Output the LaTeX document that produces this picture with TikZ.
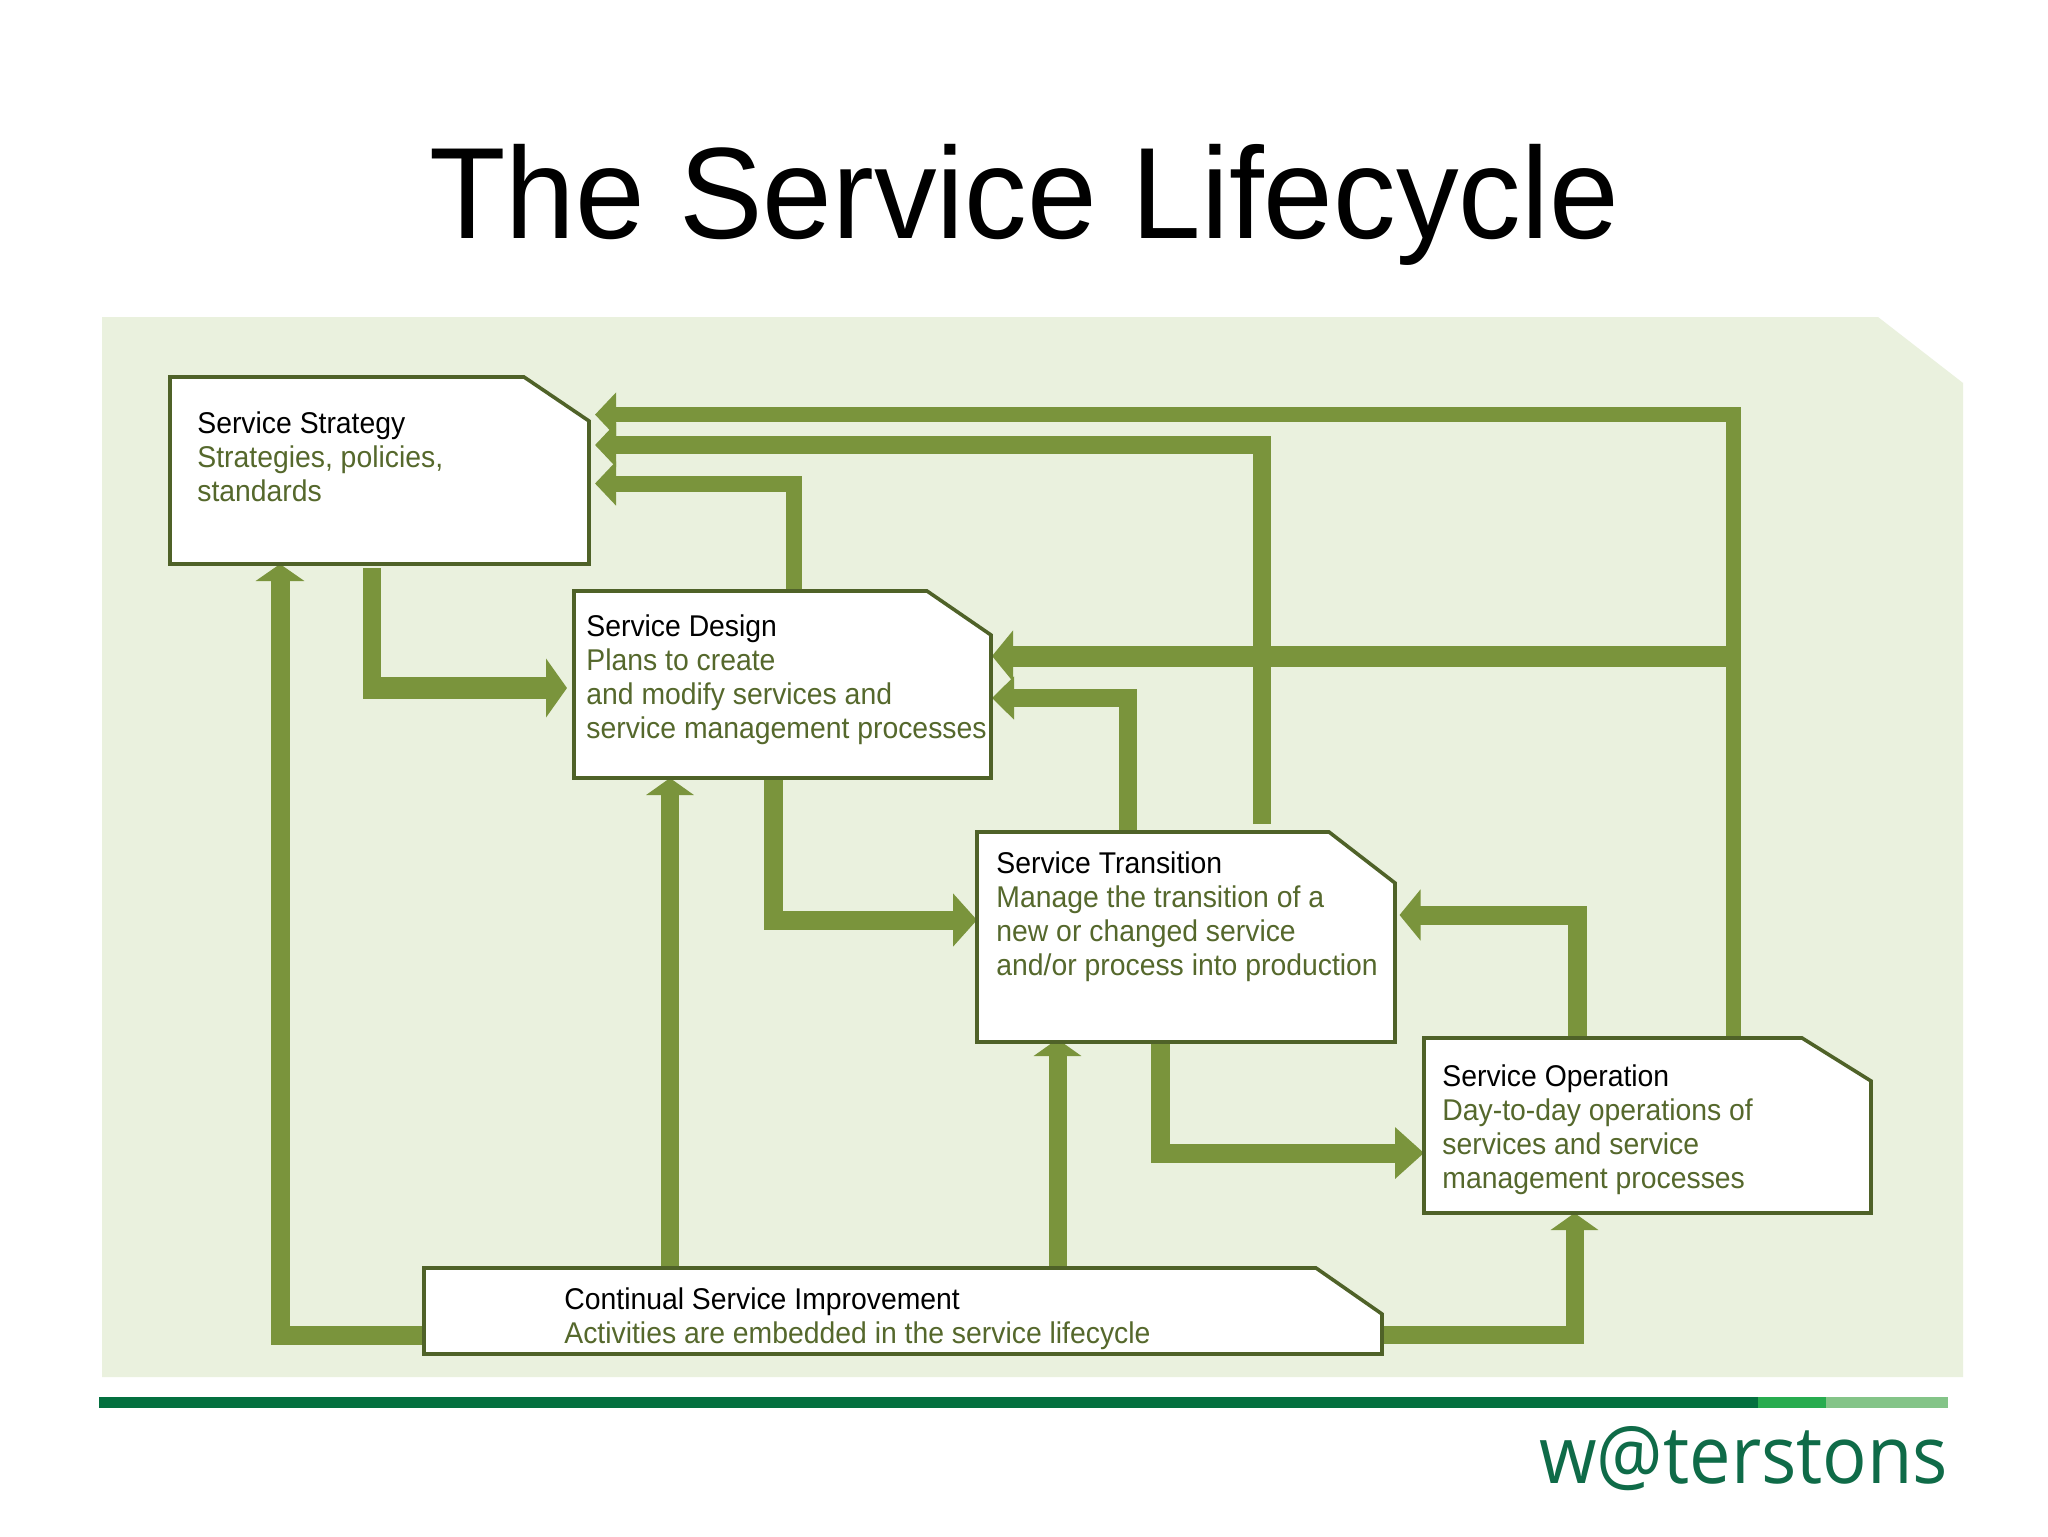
\documentclass[tikz,border=0pt]{standalone}
\usepackage{fontspec}
\setmainfont{Liberation Sans}
\newfontfamily\logofont{Open Sans}
\usetikzlibrary{arrows.meta}
\definecolor{panel}{HTML}{EAF1DE}
\definecolor{arrowgreen}{HTML}{7A943C}
\definecolor{edgegreen}{HTML}{4F6228}
\definecolor{bodygreen}{HTML}{55682C}
\definecolor{ruleA}{HTML}{04703F}
\definecolor{ruleB}{HTML}{28AC4F}
\definecolor{ruleC}{HTML}{84C488}
\definecolor{logogreen}{HTML}{0F6B48}
\tikzset{
  boxframe/.style={anchor=north west,inner sep=0pt,outer sep=0pt,minimum width={#1}},
  outline/.style={draw=edgegreen,fill=white,line width=1.8pt,line join=miter},
  conn/.style={draw=arrowgreen,line join=miter,line cap=butt},
  head/.style 2 args={-{Triangle[length=#1,width=#2]}},
  label/.style={anchor=north west,inner sep=0pt,align=left,xscale=0.945,font=\fontsize{15pt}{17.1pt}\selectfont,text=bodygreen},
}
\newcommand{\frameb}[5]{\node[boxframe={(#4-#2)*0.5pt},minimum height={(#5-#3)*0.5pt}] (#1) at (#2,#3) {};}
\newcommand{\chamfered}[3]{\draw[outline] (#1.north west) -- (#1.north -| #2,0) -- (#1.east |- 0,#3) -- (#1.south east) -- (#1.south west) -- cycle;}
\newcommand{\hd}[1]{\textcolor{black}{#1}}
\begin{document}
\begin{tikzpicture}[x=0.5pt,y=-0.5pt]
\useasboundingbox (0,0) rectangle (2048,1536);
\fill[white] (0,0) rectangle (2048,1536);
\node[anchor=base,inner sep=0pt,xscale=0.963,font=\fontsize{65pt}{70pt}\selectfont] (title) at (1024,238) {The Service Lifecycle};
\fill[panel] (102,317) -- (1878,317) -- (1963,383) -- (1963,1377) -- (102,1377) -- cycle;
\fill[ruleA] (99,1397) rectangle (1758,1408);
\fill[ruleB] (1758,1397) rectangle (1826,1408);
\fill[ruleC] (1826,1397) rectangle (1948,1408);
\node[anchor=base west,inner sep=0pt,xscale=0.925,text=logogreen,font=\logofont\fontsize{40pt}{44pt}\selectfont] (logo) at (1539,1483) {w@terstons};
% frames
\frameb{ss}{170}{377}{589}{564}
\frameb{sd}{574}{591}{991}{778}
\frameb{st}{977}{832}{1395}{1042}
\frameb{so}{1424}{1038}{1871}{1213}
\frameb{csi}{424}{1268}{1382}{1354}
% connector free ends
\coordinate (ssA) at (595,414.6);
\coordinate (ssB) at (595,445);
\coordinate (ssC) at (595,483.5);
\coordinate (ssD) at (280,564);
\coordinate (ssOut) at (372,568);
\coordinate (bendV) at (372,699);
\coordinate (bendH) at (363,688);
\coordinate (sdA) at (567,688);
\coordinate (sdB) at (992,656);
\coordinate (sdC) at (992,698);
\coordinate (sdD) at (670,778);
\coordinate (stA) at (977,920);
\coordinate (stB) at (1399.5,915);
\coordinate (stC) at (1057.5,1039);
\coordinate (stTop) at (1262,824);
\coordinate (soA) at (1424,1153);
\coordinate (soB) at (1574.5,1213);
\coordinate (junc) at (1733,656);
% connectors
\draw[conn,line width=7.5pt,head={10.5pt}{21.5pt}] (so.north -| 1733,0) |- (ssA);
\draw[conn,line width=9pt,head={10.5pt}{21.5pt}] (stTop) |- (ssB);
\draw[conn,line width=8pt,head={10.5pt}{21.5pt}] (sd.north -| 794,0) |- (ssC);
\draw[conn,line width=9pt] (ssOut) -- (bendV);
\draw[conn,line width=11pt,head={10.5pt}{29pt}] (bendH) -- (sdA);
\draw[conn,line width=9.5pt,head={8.5pt}{24pt}] (csi.west |- 0,1335) -| (ssD);
\draw[conn,line width=10.5pt,head={10.5pt}{25pt}] (junc) -- (sdB);
\draw[conn,line width=9pt,head={11pt}{21pt}] (st.north -| 1128,0) |- (sdC);
\draw[conn,line width=9.5pt,head={12pt}{26pt}] (sd.south -| 773,0) |- (stA);
\draw[conn,line width=9.5pt,head={10.5pt}{25pt}] (so.north -| 1577,0) |- (stB);
\draw[conn,line width=9.5pt,head={14.5pt}{25pt}] (st.south -| 1160,0) |- (soA);
\draw[conn,line width=9pt,head={8.5pt}{23.5pt}] (csi.north -| 670,0) -- (sdD);
\draw[conn,line width=9pt,head={8.5pt}{23.5pt}] (csi.north -| 1057.5,0) -- (stC);
\draw[conn,line width=9pt,head={8.5pt}{23.5pt}] (csi.east |- 0,1335) -| (soB);
% outlines
\chamfered{ss}{524}{421}
\chamfered{sd}{927}{635}
\chamfered{st}{1329}{883}
\chamfered{so}{1802}{1081}
\chamfered{csi}{1316}{1314}
% labels
\node[label] (ssT) at (197,411) {\hd{Service Strategy}\\Strategies, policies,\\standards};
\node[label] (sdT) at (586,614) {\hd{Service Design}\\Plans to create\\and modify services and\\service management processes};
\node[label] (stT) at (996,851) {\hd{Service Transition}\\Manage the transition of a\\new or changed service\\and/or process into production};
\node[label] (soT) at (1442,1064) {\hd{Service Operation}\\Day-to-day operations of\\services and service\\management processes};
\node[label] (csiT) at (564,1287) {\hd{Continual Service Improvement}\\Activities are embedded in the service lifecycle};
\end{tikzpicture}
\end{document}
